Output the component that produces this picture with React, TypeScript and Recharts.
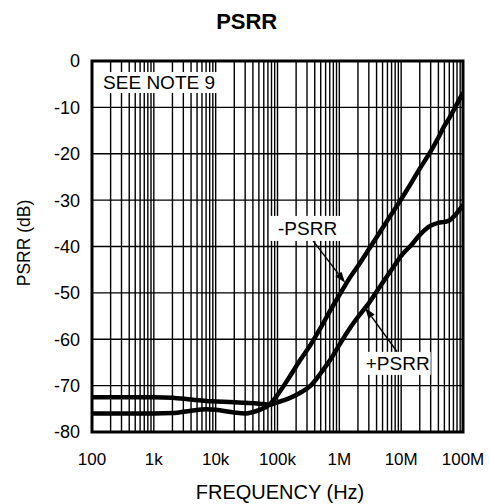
import React from 'react';
import { LineChart, Line, XAxis, YAxis, CartesianGrid, ReferenceArea, ReferenceDot, ReferenceLine } from 'recharts';

// frequency points (Hz) shared by both curves
const freqs = [
  100, 300, 1e3, 2e3, 4e3, 7e3, 1e4, 2e4, 3e4, 5e4, 7.6e4, 1e5, 1.5e5, 2.3e5, 3.5e5, 5e5, 7.5e5,
  1e6, 1.5e6, 2e6, 3e6, 5e6, 7e6, 1e7, 1.5e7, 2e7, 3e7, 4e7, 5e7, 6e7, 7e7, 8.5e7, 1e8,
];
// -PSRR (dB)
const minusPsrr = [
  -76, -76, -76, -75.9, -75.4, -75.1, -75.2, -75.8, -76, -75.3, -74, -72, -68.5, -64.6, -61, -57.5, -53.3,
  -50.5, -46.6, -44.2, -40.6, -36, -33, -29.8, -26, -23.2, -19.5, -16.5, -14, -12.3, -10.7, -8.6, -6.8,
];
// +PSRR (dB)
const plusPsrr = [
  -72.5, -72.5, -72.5, -72.6, -73, -73.3, -73.4, -73.6, -73.7, -73.9, -74.1, -73.6, -72.8, -71.6, -69.9, -67.3, -64,
  -61.2, -57.5, -55.2, -52.2, -47.8, -45, -42, -39.5, -37.5, -35.5, -34.9, -34.7, -34.4, -33.6, -32.3, -31,
];

const decadeTicks = [100, 1e3, 1e4, 1e5, 1e6, 1e7, 1e8];
const decadeLabels = ['100', '1k', '10k', '100k', '1M', '10M', '100M'];
const dbTicks = [-80, -70, -60, -50, -40, -30, -20, -10, 0];

// minor grid: 1..9 in every decade
const gridFreqs = decadeTicks
  .slice(0, -1)
  .flatMap((d) => [1, 2, 3, 4, 5, 6, 7, 8, 9].map((m) => d * m))
  .concat([1e8]);

const data = freqs.map((f, i) => ({ f, minus: minusPsrr[i], plus: plusPsrr[i] }));

const FONT = '"Liberation Sans", Arial, Helvetica, sans-serif';

function LabelBox(props: any) {
  const { cx, cy, text, w, h, size } = props;
  if (cx == null || cy == null) return null;
  return (
    <g>
      <rect x={cx - w / 2} y={cy - h / 2} width={w} height={h} fill="#fff" />
      <text x={cx} y={cy + size * 0.36} textAnchor="middle" fontSize={size} fontFamily={FONT} fill="#000">
        {text}
      </text>
    </g>
  );
}

function Arrow(props: any) {
  const { x1, y1, x2, y2 } = props;
  if (x1 == null) return null;
  const ang = Math.atan2(y2 - y1, x2 - x1);
  const len = 11;
  const half = 3.8;
  const bx = x2 - len * Math.cos(ang);
  const by = y2 - len * Math.sin(ang);
  const px = -Math.sin(ang) * half;
  const py = Math.cos(ang) * half;
  return (
    <g>
      <line x1={x1} y1={y1} x2={bx} y2={by} stroke="#000" strokeWidth={1.4} />
      <polygon points={`${x2},${y2} ${bx + px},${by + py} ${bx - px},${by - py}`} fill="#000" />
    </g>
  );
}

export default function App() {
  return (
    <div style={{ position: 'relative', width: 490, height: 504, fontFamily: FONT }}>
      <style>{'body{margin:0}'}</style>
      <LineChart width={490} height={504} data={data} margin={{ top: 61, right: 27, bottom: 42, left: 32 }}>
        <CartesianGrid stroke="#000" strokeWidth={1.4} strokeOpacity={1} />
        <XAxis
          dataKey="f"
          type="number"
          scale="log"
          domain={[100, 1e8]}
          allowDataOverflow
          ticks={gridFreqs}
          interval={0}
          height={30}
          axisLine={false}
          tickLine={false}
          tickSize={0}
          tickMargin={21}
          tick={{ fontSize: 17, fill: '#000', fontFamily: FONT }}
          tickFormatter={(v: number) => {
            const i = decadeTicks.findIndex((d) => Math.abs(d - v) < d * 1e-6);
            return i >= 0 ? decadeLabels[i] : '';
          }}
        />
        <YAxis
          type="number"
          domain={[-80, 0]}
          ticks={dbTicks}
          interval={0}
          width={60}
          axisLine={false}
          tickLine={false}
          tickSize={0}
          tickMargin={12}
          tick={{ fontSize: 18, fill: '#000', fontFamily: FONT }}
        />
        <ReferenceArea x1={100} x2={1e8} y1={-80} y2={0} fill="none" stroke="#000" strokeWidth={3} ifOverflow="visible" />
        <ReferenceDot x={1214} y={-4.63} r={0} shape={(p: any) => <LabelBox {...p} text="SEE NOTE 9" w={118} h={21} size={19} />} />
        <ReferenceDot x={3.07e5} y={-36.1} r={0} shape={(p: any) => <LabelBox {...p} text="-PSRR" w={76} h={25} size={19} />} />
        <ReferenceDot x={8.78e6} y={-65.2} r={0} shape={(p: any) => <LabelBox {...p} text="+PSRR" w={66} h={23} size={19} />} />
        <Line dataKey="minus" type="monotone" stroke="#000" strokeWidth={4.5} dot={false} isAnimationActive={false} />
        <Line dataKey="plus" type="monotone" stroke="#000" strokeWidth={4.5} dot={false} isAnimationActive={false} />
        <ReferenceLine segment={[{ x: 3.77e5, y: -38.8 }, { x: 1.24e6, y: -47.8 }]} shape={(p: any) => <Arrow {...p} />} />
        <ReferenceLine segment={[{ x: 8.6e6, y: -62.7 }, { x: 2.61e6, y: -53.2 }]} shape={(p: any) => <Arrow {...p} />} />
      </LineChart>
      <svg width={490} height={504} style={{ position: 'absolute', left: 0, top: 0, pointerEvents: 'none' }}>
        <text x={246.7} y={28.5} textAnchor="middle" fontSize={22} fontWeight="bold" fontFamily={FONT} fill="#000">
          PSRR
        </text>
        <text x={30} y={243} transform="rotate(-90 30 243)" textAnchor="middle" fontSize={17.5} fontFamily={FONT} fill="#000">
          PSRR (dB)
        </text>
        <text x={280} y={498.5} textAnchor="middle" fontSize={20} fontFamily={FONT} fill="#000">
          FREQUENCY (Hz)
        </text>
      </svg>
    </div>
  );
}
